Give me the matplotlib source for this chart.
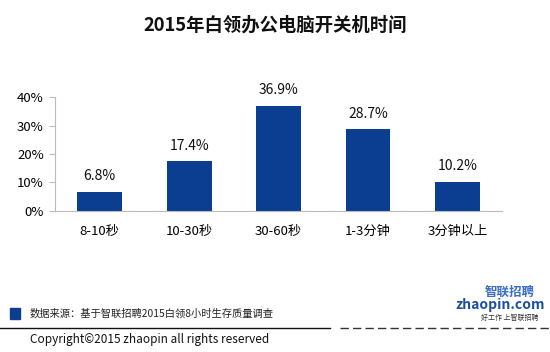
import matplotlib
matplotlib.use("Agg")
import matplotlib.pyplot as plt
from matplotlib.patches import Rectangle
from matplotlib.lines import Line2D

plt.rcParams['font.family'] = ['Noto Sans CJK SC', 'DejaVu Sans']

categories = ["8-10秒", "10-30秒", "30-60秒", "1-3分钟", "3分钟以上"]
values = [6.8, 17.4, 36.9, 28.7, 10.2]
yticks = [0, 10, 20, 30, 40]
ytick_labels = ["0%", "10%", "20%", "30%", "40%"]

bar_color = "#0B3D91"

fig = plt.figure(figsize=(5.5, 3.52), dpi=100)
ax = fig.add_axes([0.1, 0.4006, 0.813, 0.3238])
x = list(range(len(categories)))
ax.bar(x, values, width=0.5, color=bar_color)
for xi, v in zip(x, values):
    ax.text(xi, v + 3.0, f"{v}%", ha="center", va="bottom", fontsize=10, color="#111111")
ax.set_xlim(-0.5, len(categories) - 0.5)
ax.set_ylim(0, 40)
ax.set_yticks(yticks)
ax.set_yticklabels(ytick_labels, fontsize=9.5)
ax.set_xticks(x)
ax.set_xticklabels(categories, fontsize=9.5)
for s in ["top", "right"]:
    ax.spines[s].set_visible(False)
ax.spines["left"].set_color("#BBBBBB")
ax.spines["bottom"].set_color("#BBBBBB")
ax.tick_params(axis="y", length=4, color="#BBBBBB", pad=4)
ax.tick_params(axis="x", length=0, pad=10)

fig.text(0.5, 1 - 25 / 352, "2015年白领办公电脑开关机时间", ha="center", va="center",
         fontsize=13.2, fontweight="bold", color="#111111")

# footer
fig.patches.append(Rectangle((10 / 550, 1 - 319 / 352), 10 / 550, 11 / 352,
                             transform=fig.transFigure, color=bar_color))
fig.text(30 / 550, 1 - 314 / 352, "数据来源：基于智联招聘2015白领8小时生存质量调查",
         ha="left", va="center", fontsize=7.4, color="#222222")
fig.lines.append(Line2D([0, 330 / 550], [1 - 328 / 352] * 2, transform=fig.transFigure,
                        color="#111111", lw=1))
fig.lines.append(Line2D([340 / 550, 550 / 550], [1 - 328 / 352] * 2, transform=fig.transFigure,
                        color="#333333", lw=1, ls=(0, (6, 3))))
fig.text(30 / 550, 1 - 340 / 352, "Copyright©2015 zhaopin all rights reserved",
         ha="left", va="center", fontsize=8.5, color="#111111")
fig.text(510 / 550, 1 - 292 / 352, "智联招聘", ha="center", va="center",
         fontsize=9, color="#3A6FC4", fontweight="bold")
fig.text(500 / 550, 1 - 305 / 352, "zhaopin.com", ha="center", va="center",
         fontsize=10, color="#1A4FA0", fontweight="bold", style="italic")
fig.text(510 / 550, 1 - 318 / 352, "好工作 上智联招聘", ha="center", va="center",
         fontsize=5, color="#333333")

fig.savefig("out.png", dpi=100)
